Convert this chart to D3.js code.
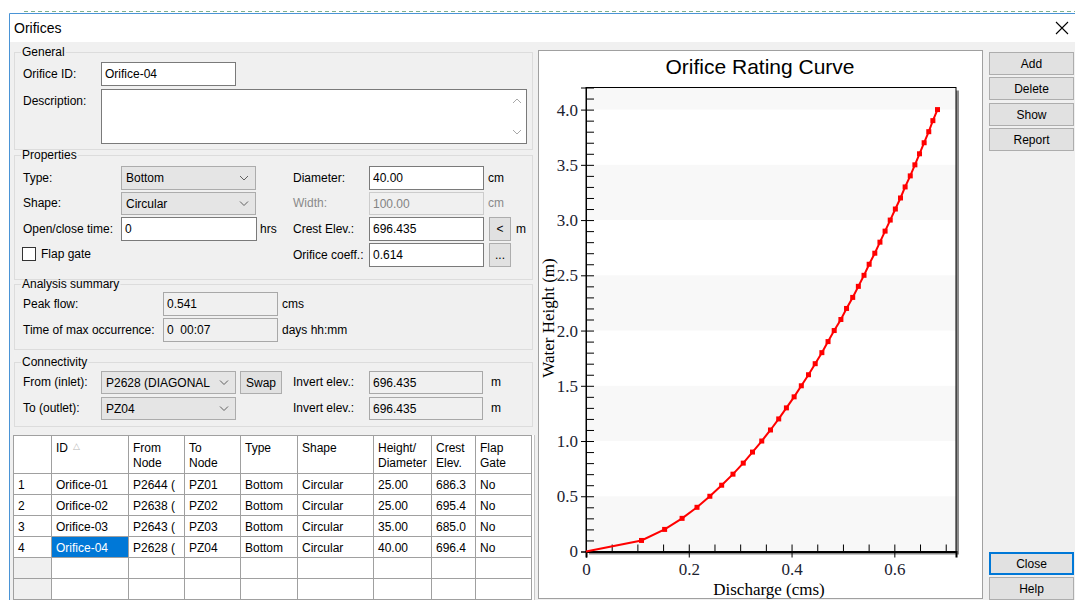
<!DOCTYPE html>
<html><head><meta charset="utf-8">
<script src="https://cdn.jsdelivr.net/npm/d3@7"></script>
<style>html,body{margin:0;padding:0;background:#fff;overflow:hidden}</style>
</head><body>
<svg id="c" width="1075" height="600"></svg>
<script>
// ---------- chart data ----------
const waterHeight = [0.0,0.1,0.2,0.3,0.4,0.5,0.6,0.7,0.8,0.9,1.0,1.1,1.2,1.3,1.4,1.5,1.6,1.7,1.8,1.9,2.0,
  2.1,2.2,2.3,2.4,2.5,2.6,2.7,2.8,2.9,3.0,3.1,3.2,3.3,3.4,3.5,3.6,3.7,3.8,3.9,4.0];
const discharge = [0.000,0.108,0.153,0.187,0.216,0.241,0.264,0.286,0.306,0.324,0.342,0.359,0.375,0.390,0.405,0.419,0.433,0.446,0.459,0.471,0.483,
  0.496,0.507,0.519,0.530,0.541,0.551,0.562,0.572,0.582,0.592,0.602,0.612,0.621,0.631,0.640,0.649,0.658,0.667,0.675,0.684];
const xTickValues = [0, 0.2, 0.4, 0.6];
const yTickValues = [0, 0.5, 1.0, 1.5, 2.0, 2.5, 3.0, 3.5, 4.0];
const chartTitle = "Orifice Rating Curve";
const xAxisTitle = "Discharge (cms)";
const yAxisTitle = "Water Height (m)";

// ---------- table data ----------
const tableHeaders = [["ID"],["From","Node"],["To","Node"],["Type"],["Shape"],["Height/","Diameter"],["Crest","Elev."],["Flap","Gate"]];
const orificeIds = ["Orifice-01","Orifice-02","Orifice-03","Orifice-04"];
const fromNodes = ["P2644 (","P2638 (","P2643 (","P2628 ("];
const toNodes = ["PZ01","PZ02","PZ03","PZ04"];
const types = ["Bottom","Bottom","Bottom","Bottom"];
const shapes = ["Circular","Circular","Circular","Circular"];
const heights = ["25.00","25.00","35.00","40.00"];
const crestElevs = ["686.3","695.4","685.0","696.4"];
const flapGates = ["No","No","No","No"];

const F = "'Liberation Sans', Arial, Helvetica, sans-serif";
const SERIF = "'Liberation Serif', 'Times New Roman', Times, serif";
const svg = d3.select('#c');

function text(x, cy, s, o = {}) {
  return svg.append('text').attr('x', x).attr('y', cy).attr('dy', '0.35em')
    .attr('font-family', o.family || F).attr('font-size', o.size || 12)
    .attr('fill', o.color || '#000').attr('text-anchor', o.anchor || 'start')
    .style('white-space', 'pre').text(s);
}
function rect(x, y, w, h, fill, stroke, sw) {
  return svg.append('rect').attr('x', x + 0.5).attr('y', y + 0.5).attr('width', w - 1).attr('height', h - 1)
    .attr('fill', fill).attr('stroke', stroke || 'none').attr('stroke-width', sw || 1);
}
function group(x, y, w, h, label) {
  rect(x, y, w, h, 'none', '#dcdcdc');
  const t = text(x + 8, y, label);
  const bb = t.node().getBBox();
  svg.insert('rect', () => t.node()).attr('x', bb.x - 1).attr('y', y - 3).attr('width', bb.width + 2).attr('height', 6).attr('fill', '#f0f0f0');
}
function textbox(x, y, w, h, s, kind) {
  if (kind === 'ro') rect(x, y, w, h, '#f0f0f0', '#a8a8a8');
  else if (kind === 'dis') rect(x, y, w, h, '#f0f0f0', '#cccccc');
  else rect(x, y, w, h, '#fff', '#7a7a7a');
  if (s !== undefined) text(x + 4, y + h / 2, s, { color: kind === 'dis' ? '#838383' : '#000' });
}
function chevron(cx, cy, color, up) {
  const d = up ? `M${cx - 4},${cy + 2} L${cx},${cy - 2} L${cx + 4},${cy + 2}` : `M${cx - 4},${cy - 2} L${cx},${cy + 2} L${cx + 4},${cy - 2}`;
  svg.append('path').attr('d', d).attr('fill', 'none').attr('stroke', color || '#606060');
}
function combo(x, y, w, h, s) {
  rect(x, y, w, h, '#e5e5e5', '#acacac');
  svg.append('clipPath').attr('id', 'cc' + x + '_' + y).append('rect').attr('x', x).attr('y', y).attr('width', w - 20).attr('height', h);
  text(x + 5, y + h / 2, s).attr('clip-path', `url(#cc${x}_${y})`);
  chevron(x + w - 12, y + h / 2);
}
function button(x, y, w, h, s, focus) {
  rect(x, y, w, h, '#e1e1e1', '#adadad');
  if (focus) svg.append('rect').attr('x', x + 1).attr('y', y + 1).attr('width', w - 2).attr('height', h - 2)
    .attr('fill', 'none').attr('stroke', '#0078d7').attr('stroke-width', 2);
  text(x + w / 2, y + h / 2, s, { anchor: 'middle' });
}

// ---------- window chrome ----------
svg.append('rect').attr('width', 1075).attr('height', 600).attr('fill', '#fff');
svg.append('rect').attr('x', 9).attr('y', 42).attr('width', 1066).attr('height', 558).attr('fill', '#f0f0f0');
svg.append('line').attr('x1', 24).attr('x2', 1075).attr('y1', 11.5).attr('y2', 11.5)
  .attr('stroke', '#7fb08c').attr('stroke-dasharray', '4,3');
svg.append('path').attr('d', 'M9.5,600 V13.5 H1075').attr('fill', 'none').attr('stroke', '#4a94d6');
text(14, 28, 'Orifices', { size: 14 });
svg.append('path').attr('d', 'M1056,22 L1068,34 M1068,22 L1056,34').attr('stroke', '#000').attr('stroke-width', 1.1);

// ---------- General ----------
group(14, 52, 519, 98, 'General');
text(23, 74, 'Orifice ID:');
textbox(101, 62, 135, 24, 'Orifice-04');
text(23, 101, 'Description:');
textbox(101, 89, 426, 55);
chevron(517, 101, '#a8a8a8', true);
chevron(517, 132, '#a8a8a8', false);

// ---------- Properties ----------
group(14, 155, 519, 125, 'Properties');
text(23, 178, 'Type:');
combo(121, 166, 135, 24, 'Bottom');
text(23, 203, 'Shape:');
combo(121, 192, 135, 23, 'Circular');
text(23, 229, 'Open/close time:');
textbox(121, 217, 136, 24, '0');
text(260, 229, 'hrs');
rect(22, 247, 14, 14, '#fff', '#333');
text(41, 254, 'Flap gate');
text(293, 178, 'Diameter:');
textbox(369, 166, 115, 24, '40.00');
text(488, 178, 'cm');
text(293, 203, 'Width:', { color: '#8a8a8a' });
textbox(369, 192, 115, 23, '100.00', 'dis');
text(488, 203, 'cm', { color: '#8a8a8a' });
text(293, 229, 'Crest Elev.:');
textbox(369, 217, 115, 24, '696.435');
button(489, 217, 22, 24, '<');
text(516, 229, 'm');
text(293, 255, 'Orifice coeff.:');
textbox(369, 243, 115, 24, '0.614');
button(489, 243, 22, 24, '...');

// ---------- Analysis summary ----------
group(14, 284, 519, 66, 'Analysis summary');
text(23, 304, 'Peak flow:');
textbox(163, 292, 115, 24, '0.541', 'ro');
text(282, 304, 'cms');
text(23, 330, 'Time of max occurrence:');
textbox(163, 318, 115, 24, '0\u00a0\u00a000:07', 'ro');
text(282, 330, 'days hh:mm');

// ---------- Connectivity ----------
group(14, 362, 519, 65, 'Connectivity');
text(23, 382, 'From (inlet):');
combo(101, 371, 135, 23, 'P2628 (DIAGONAL');
button(240, 371, 42, 23, 'Swap');
text(293, 382, 'Invert elev.:');
textbox(369, 371, 114, 23, '696.435', 'ro');
text(491, 382, 'm');
text(23, 408, 'To (outlet):');
combo(101, 397, 135, 23, 'PZ04');
text(293, 408, 'Invert elev.:');
textbox(369, 397, 114, 23, '696.435', 'ro');
text(491, 408, 'm');

// ---------- Table ----------
const colX = [13, 51, 128, 184, 240, 297, 373, 431, 475, 531];
const tTop = 435, hdrH = 38, rowH = 21;
svg.append('rect').attr('x', 13).attr('y', tTop).attr('width', 522).attr('height', 600 - tTop).attr('fill', '#fff');
for (let c = 0; c < colX.length - 1; c++) {
  rect(colX[c], tTop, colX[c + 1] - colX[c] + 1, hdrH + 1, '#fff', '#a0a0a0');
}
tableHeaders.forEach((lines, i) => {
  lines.forEach((l, j) => text(colX[i + 1] + 5, tTop + 13 + j * 15, l));
});
text(73, tTop + 11, '\u25B3', { size: 9, color: '#b8b8b8' });
const cols = [orificeIds, fromNodes, toNodes, types, shapes, heights, crestElevs, flapGates];
for (let r = 0; r < 6; r++) {
  const y = tTop + hdrH + r * rowH;
  for (let c = 0; c < colX.length - 1; c++) {
    const sel = (r === 3 && c === 1);
    rect(colX[c], y, colX[c + 1] - colX[c] + 1, rowH + 1, sel ? '#0078d7' : (c === 0 && r > 3 ? '#f0f0f0' : '#fff'), '#a0a0a0');
  }
  if (r < orificeIds.length) {
    text(colX[0] + 5, y + rowH / 2 + 1, String(r + 1));
    cols.forEach((arr, c) => text(colX[c + 1] + 5, y + rowH / 2 + 1, arr[r], { color: (r === 3 && c === 0) ? '#fff' : '#000' }));
  }
}
svg.append('line').attr('x1', 534.5).attr('x2', 534.5).attr('y1', tTop).attr('y2', 600).attr('stroke', '#c8c8c8');

// ---------- Buttons (right) ----------
button(989, 52, 85, 23, 'Add');
button(989, 77, 85, 23, 'Delete');
button(989, 103, 85, 23, 'Show');
button(989, 128, 85, 23, 'Report');
button(989, 552, 85, 23, 'Close', true);
button(989, 577, 85, 23, 'Help');

// ---------- Chart panel ----------
rect(538, 50, 445, 549, '#fff', '#a0a0a0');
text(760, 67, chartTitle, { size: 21, anchor: 'middle' });

const x = d3.scaleLinear().domain([0, 0.72]).range([586, 956]);
const y = d3.scaleLinear().domain([0, 4.2]).range([551.5, 87.5]);

// shadow + plot background
svg.append('rect').attr('x', x(0) + 3).attr('y', y(4.2) + 3).attr('width', x(0.72) - x(0)).attr('height', y(0) - y(4.2)).attr('fill', '#8c8c8c');
svg.append('rect').attr('x', x(0)).attr('y', y(4.2)).attr('width', x(0.72) - x(0)).attr('height', y(0) - y(4.2)).attr('fill', '#fff');
// alternating bands
const bandStarts = d3.range(0, 4.2, 0.5);
svg.append('g').selectAll('rect').data(bandStarts.filter((d, i) => i % 2 === 0)).join('rect')
  .attr('x', x(0)).attr('width', x(0.72) - x(0))
  .attr('y', d => y(Math.min(d + 0.5, 4.2))).attr('height', d => y(d) - y(Math.min(d + 0.5, 4.2)))
  .attr('fill', '#f8f8f8');
// frame
svg.append('rect').attr('x', x(0)).attr('y', y(4.2)).attr('width', x(0.72) - x(0)).attr('height', y(0) - y(4.2))
  .attr('fill', 'none').attr('stroke', '#000').attr('stroke-width', 1);

// axes
const yOut = d3.axisLeft(y).tickValues(yTickValues).tickSize(5).tickPadding(3)
  .tickFormat(d => d === 0 ? '0' : d3.format('.1f')(d));
const yIn = d3.axisRight(y).tickValues(d3.range(0, 4.21, 0.1)).tickSize(8).tickFormat('');
const xOut = d3.axisBottom(x).tickValues(xTickValues).tickSize(6).tickPadding(5)
  .tickFormat(d => d === 0 ? '0' : d3.format('.1f')(d));
const xIn = d3.axisTop(x).tickValues(d3.range(0, 0.72, 0.05)).tickSize(7).tickFormat('');

function styleAxis(g) {
  g.selectAll('.domain').attr('stroke', '#000');
  g.selectAll('line').attr('stroke', '#000');
  g.selectAll('text').attr('font-family', SERIF).attr('font-size', 17).attr('fill', '#1c2230');
}
svg.append('g').attr('transform', `translate(${x(0)},0)`).call(yOut).call(styleAxis);
svg.append('g').attr('transform', `translate(${x(0)},0)`).call(yIn).call(styleAxis).select('.domain').remove();
svg.append('g').attr('transform', `translate(0,${y(0)})`).call(xOut).call(styleAxis).select('.domain').attr('stroke-width', 2);
svg.append('g').attr('transform', `translate(0,${y(0)})`).call(xIn).call(styleAxis).select('.domain').remove();

// axis titles
text(769, 589, xAxisTitle, { family: SERIF, size: 17, anchor: 'middle' });
svg.append('text').attr('transform', 'translate(548,318) rotate(-90)').attr('dy', '0.35em')
  .attr('text-anchor', 'middle').attr('font-family', SERIF).attr('font-size', 17).attr('fill', '#000').text(yAxisTitle);

// curve
const pts = discharge.map((q, i) => ({ q, h: waterHeight[i] }));
svg.append('path').datum(pts)
  .attr('d', d3.line().x(d => x(d.q)).y(d => y(d.h)))
  .attr('fill', 'none').attr('stroke', '#ff0000').attr('stroke-width', 2);
svg.append('g').selectAll('rect').data(pts.slice(1)).join('rect')
  .attr('x', d => x(d.q) - 2.5).attr('y', d => y(d.h) - 2.5).attr('width', 5).attr('height', 5).attr('fill', '#ff0000');
</script>
</body></html>
